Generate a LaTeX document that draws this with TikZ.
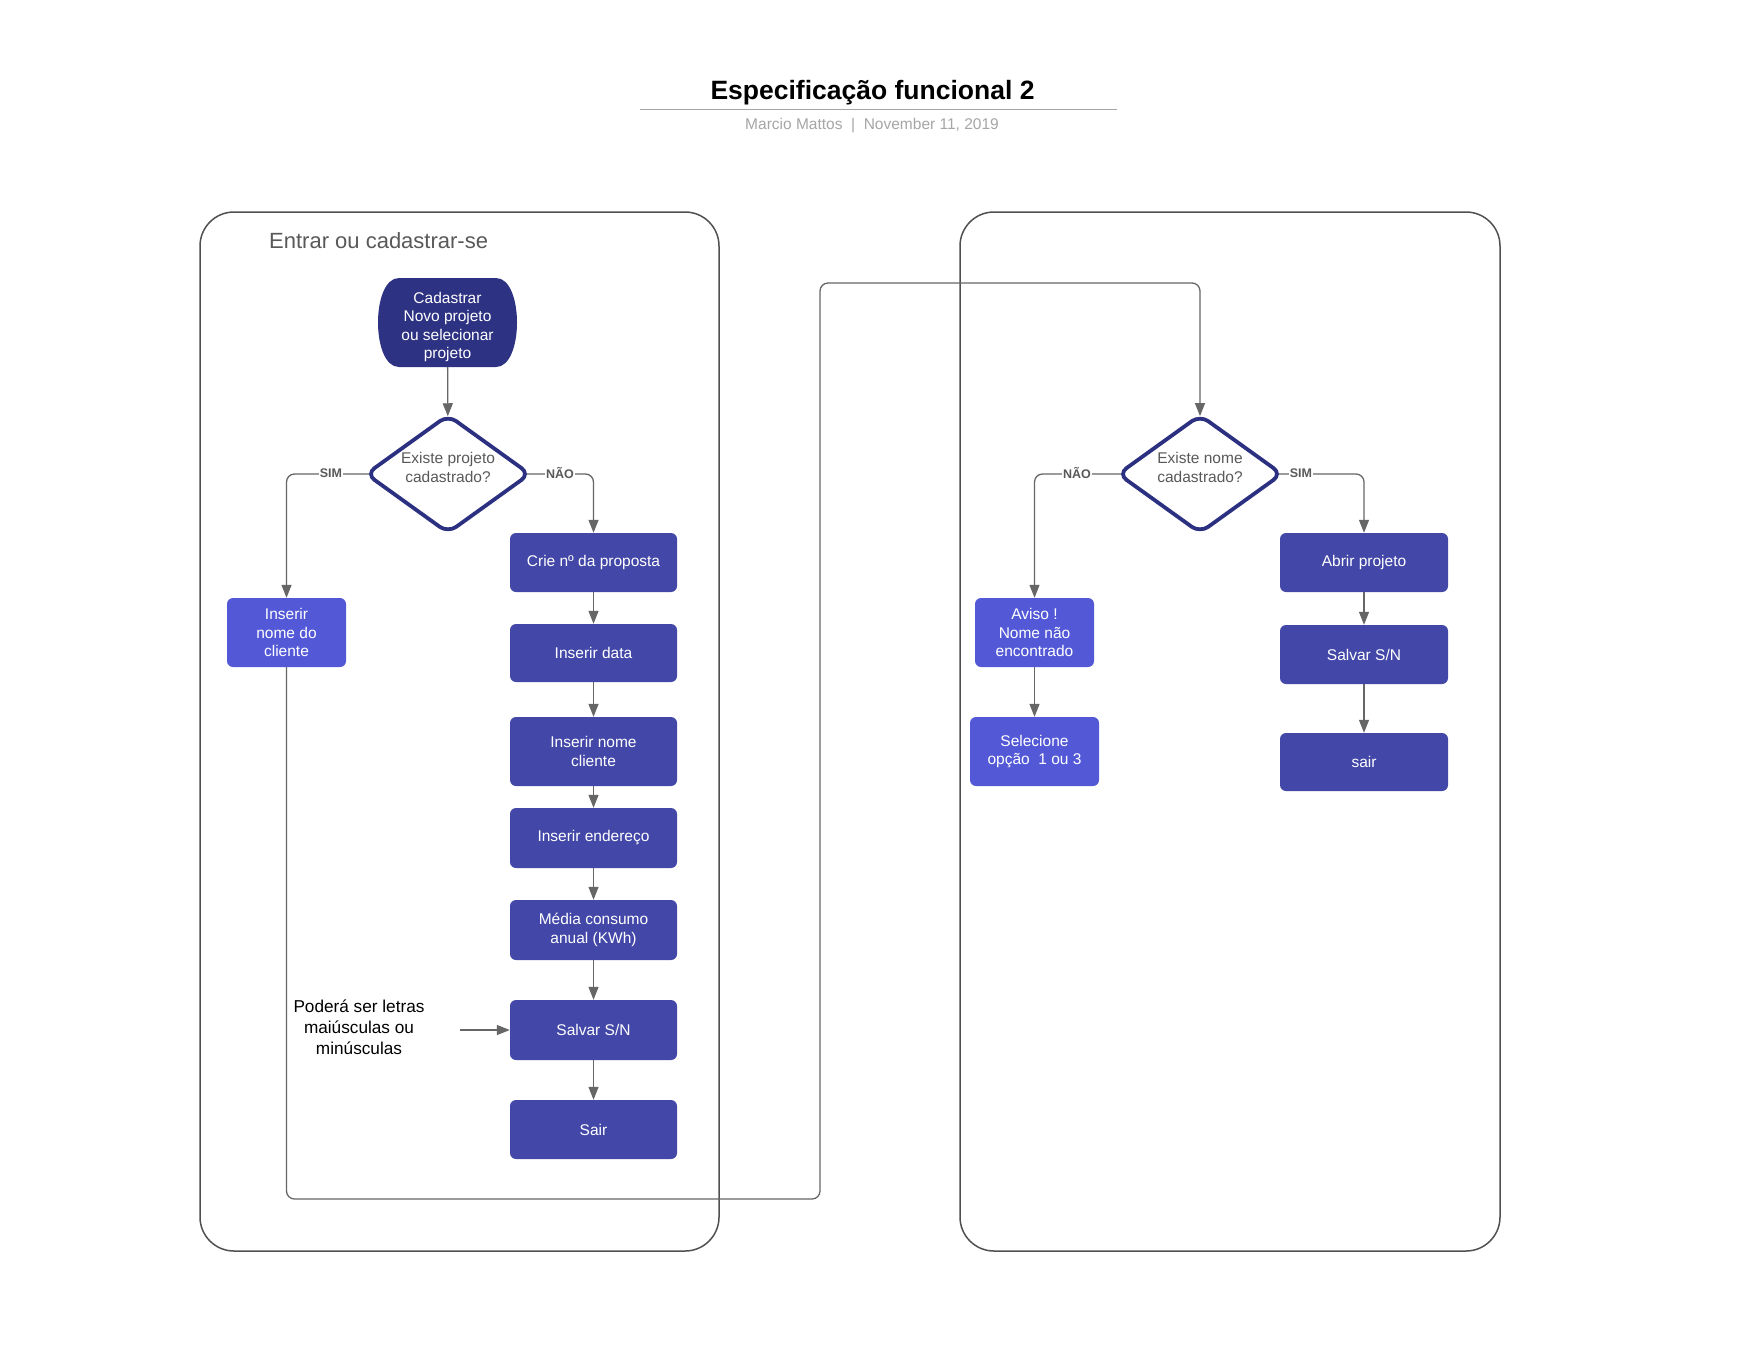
\documentclass[tikz,border=0pt]{standalone}
\usepackage{fontspec}
\setmainfont{Liberation Sans}
\usetikzlibrary{shapes.geometric,arrows.meta}
\definecolor{navy}{HTML}{2E3283}
\definecolor{boxc}{HTML}{4348A8}
\definecolor{lightc}{HTML}{5359D6}
\definecolor{dborder}{HTML}{2C3080}
\definecolor{conn}{HTML}{666666}
\definecolor{framec}{HTML}{505050}
\definecolor{txtgray}{HTML}{595959}
\definecolor{subgray}{HTML}{A6A6A6}
\pgfdeclarelayer{paper}
\pgfdeclarelayer{under}
\pgfsetlayers{paper,under,main}
\begin{document}
\begin{tikzpicture}[x=1pt,y=-1pt,
  boxfont/.style={font=\fontsize{15.5}{18.6}\selectfont},
  proc/.style={boxfont, rectangle, rounded corners=6pt, fill=boxc, text=white,
    minimum width=167pt, minimum height=59pt, align=center, inner sep=2pt},
  lproc/.style={proc, fill=lightc, minimum width=119pt, minimum height=69pt},
  term/.style={boxfont, text=white, align=center, minimum width=139pt, minimum height=80pt, inner sep=0pt},
  decis/.style={diamond, draw=dborder, line width=3.8pt, fill=white, rounded corners=10pt,
    aspect=1.32, minimum width=165pt, minimum height=119pt, inner sep=0pt},
  dtext/.style={boxfont, text=txtgray, align=center, inner sep=0pt},
  lbl/.style={font=\bfseries\fontsize{12.5}{14}\selectfont, text=txtgray, fill=white, inner sep=1pt},
  conn/.style={draw=conn, line width=1.3pt, -{Triangle[length=13pt,width=10pt]}},
  container/.style={draw=framec, line width=1.5pt, rounded corners=34pt}
]
\useasboundingbox (0,0) rectangle (1760,1360);
\begin{pgfonlayer}{paper}
\fill[white] (0,0) rectangle (1760,1360);
\end{pgfonlayer}

% header
\node[font=\bfseries\fontsize{26.5}{30}\selectfont] (title) at (872.5,92.5) {Especificação funcional 2};
\draw[draw=subgray, line width=1pt] (640,109.5) -- (1117,109.5);
\node[font=\fontsize{15.5}{18}\selectfont, text=subgray] (sub) at (872,125.5) {Marcio Mattos\ \ |\ \ November 11, 2019};

% containers
\draw[container] (200,212) rectangle (719,1251);
\draw[container] (960,212) rectangle (1500,1251);
\node[font=\fontsize{22}{26}\selectfont, text=txtgray, anchor=west, inner sep=0pt] (ctitle) at (269,241) {Entrar ou cadastrar-se};

% start terminal
\fill[navy] (399,278) -- (496,278) .. controls (524,278) and (524,367) .. (496,367)
  -- (399,367) .. controls (371,367) and (371,278) .. (399,278) -- cycle;
\node[term] (start) at (447.5,327) {Cadastrar\\Novo projeto\\ou selecionar\\projeto};

% decisions
\node[decis] (d1) at (448,474) {};
\node[dtext] (d1t) at (448,467.5) {Existe projeto\\cadastrado?};
\node[decis] (d2) at (1200,474) {};
\node[dtext] (d2t) at (1200,467.5) {Existe nome\\cadastrado?};

% left column boxes
\node[lproc] (inc) at (286.5,632.5) {Inserir\\nome do\\cliente};
\node[proc] (crie) at (593.5,562.5) {Crie nº da proposta};
\node[proc, minimum height=58pt] (data) at (593.5,653) {Inserir data};
\node[proc, minimum height=69pt] (nomecli) at (593.5,751.5) {Inserir nome\\cliente};
\node[proc, minimum height=60pt] (ender) at (593.5,838) {Inserir endereço};
\node[proc, minimum height=60pt] (media) at (593.5,930) {Média consumo\\anual (KWh)};
\node[proc, minimum height=60pt] (salv1) at (593.5,1030) {Salvar S/N};
\node[proc] (sair1) at (593.5,1129.5) {Sair};

% right side boxes
\node[lproc] (aviso) at (1034.5,632.5) {Aviso !\\Nome não\\encontrado};
\node[lproc, minimum width=129pt] (selec) at (1034.5,751.5) {Selecione\\opção\ \ 1 ou 3};
\node[proc, minimum width=168pt] (abrir) at (1364,562.5) {Abrir projeto};
\node[proc, minimum width=168pt] (salv2) at (1364,654.5) {Salvar S/N};
\node[proc, minimum width=168pt, minimum height=58pt] (sair2) at (1364,762) {sair};

% note
\node[font=\fontsize{17.2}{21}\selectfont, align=center, inner sep=0pt] (note) at (359,1027) {Poderá ser letras\\maiúsculas ou\\minúsculas};
\coordinate (noteend) at (460,1030);

% connectors leaving the decisions: start inside the shape, hidden under its fill
\begin{pgfonlayer}{under}
\draw[conn, rounded corners=8pt, shorten <=-12pt] (d1.west) -| (inc.north);
\draw[conn, rounded corners=8pt, shorten <=-12pt] (d1.east) -| (crie.north);
\draw[conn, rounded corners=8pt, shorten <=-12pt] (d2.west) -| (aviso.north);
\draw[conn, rounded corners=8pt, shorten <=-12pt] (d2.east) -| (abrir.north);
\end{pgfonlayer}

% other connectors
\draw[conn, shorten >=-3.5pt] (start) -- (d1);
\draw[conn] (crie) -- (data);
\draw[conn] (data) -- (nomecli);
\draw[conn] (nomecli) -- (ender);
\draw[conn] (ender) -- (media);
\draw[conn] (media) -- (salv1);
\draw[conn] (salv1) -- (sair1);
\draw[conn] (noteend) -- (noteend -| salv1.west);

\coordinate (loopA) at (820,1199);
\coordinate (loopB) at (820,283);
\draw[conn, rounded corners=8pt, shorten >=-3.5pt] (inc.south) |- (loopA) -- (loopB) -| (d2.north);

\draw[conn] (aviso) -- (selec);
\draw[conn] (abrir) -- (salv2);
\draw[conn] (salv2) -- (sair2);

% branch labels
\node[lbl] (sim1) at (331,473) {SIM};
\node[lbl] (nao1) at (560,473) {NÃO};
\node[lbl] (nao2) at (1077,473) {NÃO};
\node[lbl] (sim2) at (1301,473) {SIM};
\end{tikzpicture}
\end{document}
